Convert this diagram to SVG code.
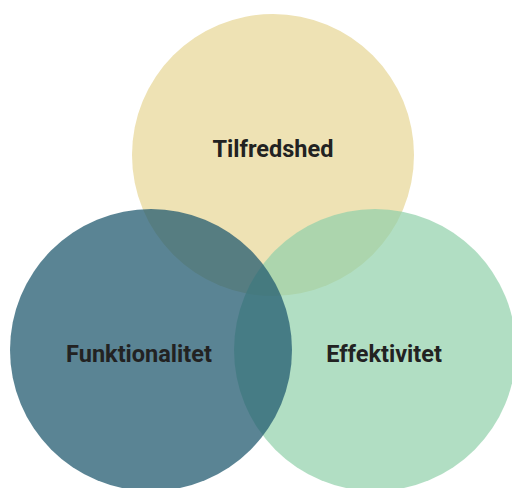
<svg xmlns="http://www.w3.org/2000/svg" width="512" height="488" viewBox="0 0 512 488">
<style>
.lbl{font-family:Roboto,"Liberation Sans",sans-serif;font-weight:700;font-size:23.5px;fill:#222222;text-anchor:middle}
</style>
<rect width="512" height="488" fill="#ffffff"/>
<g id="tilfredshed">
<circle cx="273" cy="155" r="141" fill="#EEE2B4"/>
</g>
<g id="effektivitet">
<circle cx="375" cy="350" r="141" fill="#90D0A9" fill-opacity="0.7"/>
</g>
<g id="funktionalitet">
<circle cx="151" cy="350" r="141" fill="#235B70" fill-opacity="0.75"/>
</g>
<g id="labels">
<text class="lbl" x="273" y="157">Tilfredshed</text>
<text class="lbl" x="139" y="362">Funktionalitet</text>
<text class="lbl" x="384" y="362">Effektivitet</text>
</g>
<g id="connectors"/>
</svg>
